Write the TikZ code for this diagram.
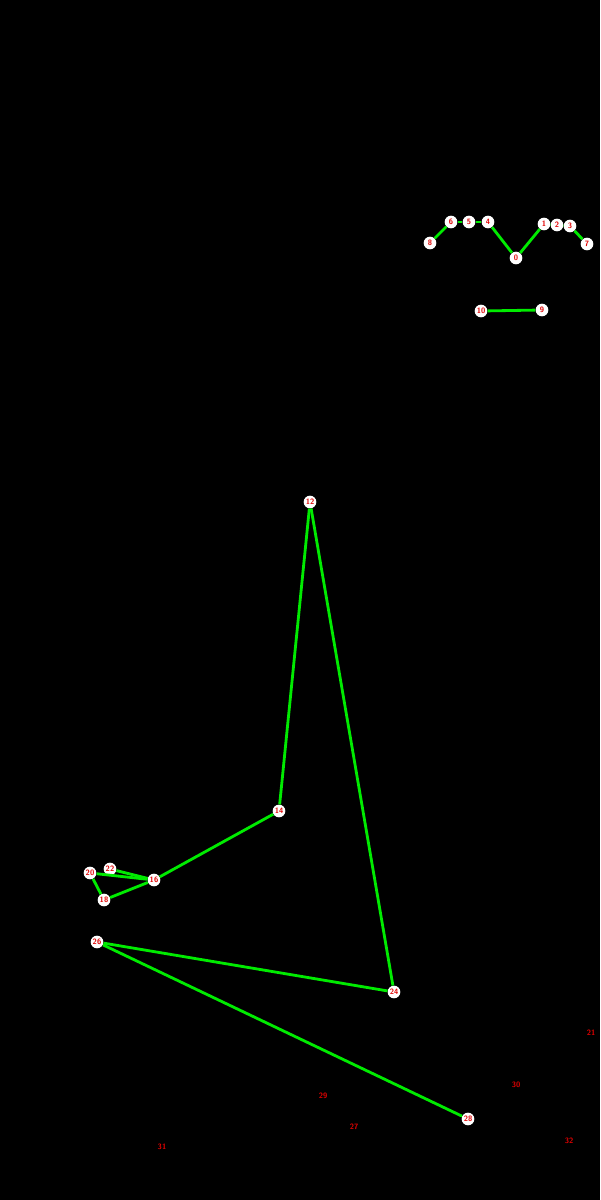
\documentclass[tikz,border=0pt]{standalone}
\usepackage{tikz}

\definecolor{bonegreen}{RGB}{0,235,0}
\definecolor{markred}{RGB}{225,0,0}

\tikzset{
    joint/.style={circle, fill=white, inner sep=0pt, minimum size=9pt,
        text=markred, font=\sffamily\bfseries\fontsize{5.5}{5.5}\selectfont},
    hidden/.style={inner sep=0pt, text=markred,
        font=\sffamily\bfseries\fontsize{5.5}{5.5}\selectfont},
    bone/.style={bonegreen, line width=2pt}
}

\begin{document}
\begin{tikzpicture}[x=0.025cm, y=-0.025cm]
    % Background
    \fill[black] (0,0) rectangle (600,1200);
    \useasboundingbox (0,0) rectangle (600,1200);

    % Face
    \node[joint] (p0) at (516,258) {0};
    \node[joint] (p1) at (544,224) {1};
    \node[joint] (p2) at (557,225) {2};
    \node[joint] (p3) at (570,226) {3};
    \node[joint] (p4) at (488,222) {4};
    \node[joint] (p5) at (469,222) {5};
    \node[joint] (p6) at (451,222) {6};
    \node[joint] (p7) at (587,244) {7};
    \node[joint] (p8) at (430,243) {8};

    % Mouth
    \node[joint] (p9) at (542,310) {9};
    \node[joint] (p10) at (481,311) {10};

    % Arm and hand
    \node[joint] (p12) at (310,502) {12};
    \node[joint] (p14) at (279,811) {14};
    \node[joint] (p16) at (154,880) {16};
    \node[joint] (p18) at (104,900) {18};
    \node[joint] (p20) at (90,873) {20};
    \node[joint] (p22) at (110,869) {22};

    % Hip and leg
    \node[joint] (p24) at (394,992) {24};
    \node[joint] (p26) at (97,942) {26};
    \node[joint] (p28) at (468,1119) {28};

    % Points with low visibility
    \node[hidden] (p21) at (591,1033) {21};
    \node[hidden] (p27) at (354,1127) {27};
    \node[hidden] (p29) at (323,1096) {29};
    \node[hidden] (p30) at (516,1085) {30};
    \node[hidden] (p31) at (162,1147) {31};
    \node[hidden] (p32) at (569,1141) {32};

    % Bones
    \draw[bone] (p0) -- (p1);
    \draw[bone] (p1) -- (p2);
    \draw[bone] (p2) -- (p3);
    \draw[bone] (p3) -- (p7);
    \draw[bone] (p0) -- (p4);
    \draw[bone] (p4) -- (p5);
    \draw[bone] (p5) -- (p6);
    \draw[bone] (p6) -- (p8);
    \draw[bone] (p9) -- (p10);
    \draw[bone] (p12) -- (p14);
    \draw[bone] (p14) -- (p16);
    \draw[bone] (p16) -- (p18);
    \draw[bone] (p18) -- (p20);
    \draw[bone] (p20) -- (p16);
    \draw[bone] (p22) -- (p16);
    \draw[bone] (p12) -- (p24);
    \draw[bone] (p24) -- (p26);
    \draw[bone] (p26) -- (p28);
\end{tikzpicture}
\end{document}
